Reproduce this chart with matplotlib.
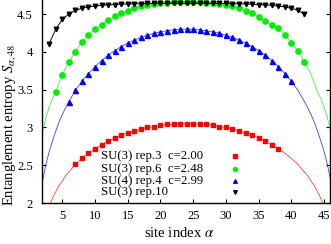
import numpy as np
import matplotlib
matplotlib.use('Agg')
import matplotlib.pyplot as plt

plt.rcParams['font.family'] = ['Liberation Serif', 'DejaVu Serif']
plt.rcParams['mathtext.fontset'] = 'stix'

# SU(3) rep.3, c=2.00 (red squares + fit)
red_site = np.arange(7, 39)
red_S = [2.51, 2.59, 2.66, 2.72, 2.77, 2.82, 2.86, 2.90, 2.93, 2.95, 2.98, 3.00,
         3.01, 3.03, 3.04, 3.04, 3.05, 3.05, 3.05, 3.04, 3.04, 3.03, 3.01, 3.00,
         2.98, 2.95, 2.93, 2.90, 2.86, 2.82, 2.77, 2.72]
red_fit_left_x = [3.2, 3.5, 4, 4.5, 5, 5.5, 6, 6.5]
red_fit_left_y = [2.00, 2.06, 2.15, 2.23, 2.29, 2.36, 2.41, 2.46]
red_fit_right_x = [39, 40, 41, 42, 42.5, 43, 43.5, 44, 44.5, 44.8]
red_fit_right_y = [2.66, 2.59, 2.51, 2.41, 2.36, 2.29, 2.23, 2.15, 2.06, 2.00]

# SU(3) rep.6, c=2.48 (green circles + fit)
green_site = np.arange(4, 43)
green_S = [3.47, 3.70, 3.87, 4.00, 4.13, 4.225, 4.30, 4.36, 4.42, 4.47, 4.51,
           4.545, 4.575, 4.60, 4.615, 4.63, 4.64, 4.65, 4.655, 4.66, 4.66,
           4.66, 4.655, 4.65, 4.64, 4.63, 4.615, 4.60, 4.575, 4.545, 4.51,
           4.46, 4.41, 4.355, 4.31, 4.225, 4.12, 4.01, 3.87]
green_fit_left_x = [1.9, 2, 2.5, 3, 3.5]
green_fit_left_y = [2.91, 2.95, 3.13, 3.27, 3.38]
green_fit_right_x = [43, 44, 44.5, 45, 45.5, 46]
green_fit_right_y = [3.70, 3.47, 3.38, 3.27, 3.13, 2.95]

# SU(4) rep.4, c=2.99 (blue triangles + fit)
blue_site = np.arange(6, 41)
blue_S = [3.34, 3.49, 3.61, 3.71, 3.805, 3.885, 3.955, 4.015, 4.07, 4.115,
          4.155, 4.19, 4.22, 4.245, 4.265, 4.28, 4.29, 4.30, 4.30, 4.30, 4.29,
          4.28, 4.265, 4.245, 4.22, 4.19, 4.155, 4.115, 4.07, 4.015, 3.955,
          3.885, 3.805, 3.71, 3.61]
blue_fit_left_x = [1.9, 2, 2.5, 3, 3.5, 4, 4.5, 5, 5.5]
blue_fit_left_y = [2.27, 2.30, 2.51, 2.68, 2.82, 2.95, 3.07, 3.17, 3.26]
blue_fit_right_x = [41, 42, 42.5, 43, 43.5, 44, 44.5, 45, 45.5, 46]
blue_fit_right_y = [3.49, 3.34, 3.26, 3.17, 3.07, 2.95, 2.82, 2.68, 2.51, 2.30]

# SU(3) rep.10 (black, linespoints)
black_site = np.arange(3, 43)
black_S = [4.11, 4.30, 4.43, 4.50, 4.55, 4.575, 4.595, 4.605, 4.615, 4.62,
           4.625, 4.63, 4.633, 4.636, 4.638, 4.64, 4.641, 4.641, 4.641, 4.641,
           4.641, 4.641, 4.641, 4.641, 4.641, 4.641, 4.641, 4.64, 4.638, 4.636,
           4.633, 4.63, 4.625, 4.62, 4.615, 4.605, 4.595, 4.575, 4.55, 4.50]

labels = ['SU(3) rep.3  c=2.00', 'SU(3) rep.6  c=2.48',
          'SU(4) rep.4  c=2.99', 'SU(3) rep.10']

fig = plt.figure(figsize=(3.31, 2.44), dpi=100)
ax = fig.add_axes([42 / 331, 41 / 244, 288 / 331, 203 / 244])

series = [
    (red_site, red_S, red_fit_left_x, red_fit_left_y, red_fit_right_x, red_fit_right_y, '#ff0000', 's', 3.4),
    (green_site, green_S, green_fit_left_x, green_fit_left_y, green_fit_right_x, green_fit_right_y, '#00ee00', 'o', 3.8),
    (blue_site, blue_S, blue_fit_left_x, blue_fit_left_y, blue_fit_right_x, blue_fit_right_y, '#0000ff', '^', 3.6),
]
for site, S, lx, ly, rx, ry, col, mk, ms in series:
    fx = np.r_[lx, site, rx]
    fy = np.r_[ly, S, ry]
    ax.plot(fx, fy, '-', color=col, lw=0.6, alpha=0.75)
    ax.plot(site, S, mk, color=col, ms=ms, mec=col, lw=0)

ax.plot(black_site, black_S, 'v-', color='black', ms=3.3, lw=0.7)

# key
key_style = [('#ff0000', 's', 2.6), ('#00ee00', 'o', 2.8), ('#0000ff', '^', 2.7), ('black', 'v', 2.6)]
key_y = [0.2315, 0.166, 0.108, 0.0527]
for lab, yy, (col, mk, ms) in zip(labels, key_y, key_style):
    ax.text(0.205, yy, lab, transform=ax.transAxes, fontsize=9.2, va='center', ha='left')
    ax.plot([0.670], [yy], mk, color=col, ms=ms, transform=ax.transAxes, clip_on=False)

ax.set_xlim(1.9, 45.9)
ax.set_ylim(2, 4.686)
ax.set_xticks(np.arange(5, 46, 5))
ax.set_yticks([2, 2.5, 3, 3.5, 4, 4.5])
ax.set_yticklabels(['2', '2.5', '3', '3.5', '4', '4.5'])
ax.tick_params(direction='in', length=3, width=0.8, labelsize=9, right=True, top=False)
ax.tick_params(axis='y', pad=6.5)
ax.tick_params(axis='x', pad=5)
ax.spines['top'].set_visible(False)
for s in ['left', 'right', 'bottom']:
    ax.spines[s].set_linewidth(1.0)

ax.set_xlabel('site index $\\alpha$', fontsize=10.5)
ax.xaxis.set_label_coords(0.477, -0.113)
ax.set_ylabel('Entanglement entropy $S_{\\alpha,48}$', fontsize=10.5)
ax.yaxis.set_label_coords(-0.085, 0.385)

fig.savefig('out.png', dpi=100)
